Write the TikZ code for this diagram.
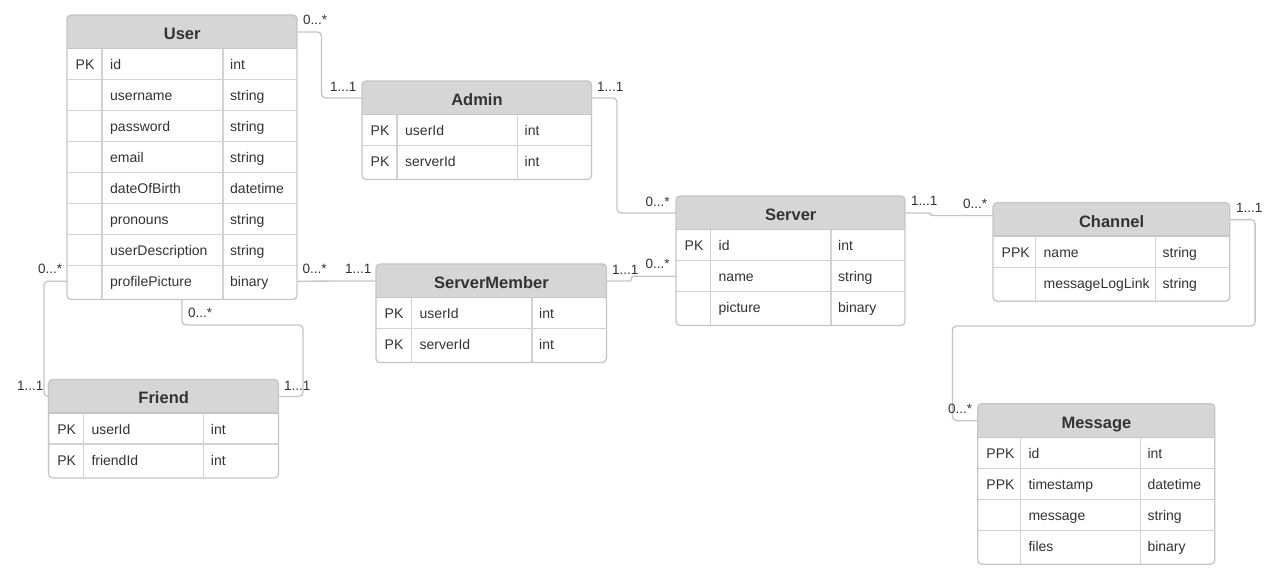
\documentclass[tikz,border=0pt]{standalone}
\usepackage{fontspec}
\setmainfont{Liberation Sans}
\definecolor{hdrfill}{HTML}{D6D6D6}
\definecolor{lnc}{HTML}{C6C6C6}
\definecolor{rowc}{HTML}{D2D2D2}
\definecolor{txt}{HTML}{333333}
\tikzset{
  hdrtext/.style={font=\bfseries\fontsize{16.5}{19}\selectfont, text=txt, inner sep=0},
  celltext/.style={font=\fontsize{14}{16}\selectfont, text=txt, inner sep=0},
  rowbox/.style={minimum height=31pt, inner sep=0},
  rowline/.style={draw=rowc, line width=1.1pt},
  hdrline/.style={draw=lnc, line width=1.4pt},
  border/.style={draw=lnc, line width=1.3pt, rounded corners=4pt, inner sep=0, outer sep=0},
  conn/.style={draw=lnc, line width=1.3pt, rounded corners=4pt},
  jogconn/.style={draw=lnc, line width=1.3pt, rounded corners=1.5pt},
  lab/.style={font=\fontsize{13.5}{15}\selectfont, text=txt, inner sep=0, anchor=base west},
}
% #1 name, #2 title, #3 left, #4 top, #5 right, #6 col1, #7 col2, #8 rows, #9 row list
\newcommand\ertable[9]{%
  \pgfmathsetmacro\erW{#5-(#3)}%
  \pgfmathsetmacro\erHB{#4+33.5}%
  \pgfmathsetmacro\erB{\erHB+31*#8+3}%
  \pgfmathsetmacro\erH{\erB-(#4)}%
  \fill[white,rounded corners=4pt] (#3,#4) rectangle (#5,\erB);
  \fill[hdrfill] (#3,\erHB) [rounded corners=4pt] -- (#3,#4) -- (#5,#4) [sharp corners] -- (#5,\erHB) -- cycle;
  \node[hdrtext, minimum width=\erW pt, minimum height=33.5pt, anchor=north west] (#1) at (#3,#4) {};
  \node[hdrtext, anchor=base] (#1-title) at ([yshift=-7.5pt]#1.center) {#2};
  \foreach [count=\i] \k/\n/\t in {#9} {
    \pgfmathsetmacro\erY{\erHB+31*(\i-1)}
    \node[rowbox, minimum width=\erW pt, anchor=north west] (#1-\i) at (#3,\erY) {};
    \node[celltext, anchor=base west] (#1-\i-k) at (#3+8.5,\erY+21.3) {\k};
    \node[celltext, anchor=base west] (#1-\i-n) at (#6+8,\erY+21.3) {\n};
    \node[celltext, anchor=base west] (#1-\i-t) at (#7+7,\erY+21.3) {\t};
  }
  \foreach \j in {2,...,#8} {
    \draw[rowline] (#3,\erHB+31*\j-31) -- (#5,\erHB+31*\j-31);
  }
  \draw[rowline] (#6,\erHB) -- (#6,\erB);
  \draw[rowline] (#7,\erHB) -- (#7,\erB);
  \draw[hdrline] (#3,\erHB) -- (#5,\erHB);
  \node[border, minimum width=\erW pt, minimum height=\erH pt, anchor=north west] (#1-box) at (#3,#4) {};
}
\begin{document}
\begin{tikzpicture}[x=1pt,y=-1pt]
\useasboundingbox[fill=white] (0,0) rectangle (1279,569);

\coordinate (uf) at (303,325);
\coordinate (cm) at (952.5,326);

\ertable{user}{User}{67}{15}{297}{102}{223}{8}{PK/id/int, {}/username/string, {}/password/string, {}/email/string, {}/dateOfBirth/datetime, {}/pronouns/string, {}/userDescription/string, {}/profilePicture/binary}
\ertable{admin}{Admin}{362}{81}{591.5}{397}{517.5}{2}{PK/userId/int, PK/serverId/int}
\ertable{sm}{ServerMember}{376}{264}{606.5}{411.5}{532}{2}{PK/userId/int, PK/serverId/int}
\ertable{friend}{Friend}{48.6}{379.5}{278.4}{83.3}{203.7}{2}{PK/userId/int, PK/friendId/int}
\ertable{server}{Server}{676}{196}{905}{710.5}{831}{3}{PK/id/int, {}/name/string, {}/picture/binary}
\ertable{channel}{Channel}{993}{202.7}{1229.7}{1035.5}{1155.5}{2}{PPK/name/string, {}/messageLogLink/string}
\ertable{message}{Message}{977.7}{403.7}{1214.7}{1020.3}{1140.3}{4}{PPK/id/int, PPK/timestamp/datetime, {}/message/string, {}/files/binary}

\draw[conn] (user.east) -- ([xshift=24pt]user.east) |- (admin.west);
\draw[conn] (admin.east) -- ([xshift=25pt]admin.east) |- (server.west);
\draw[conn] (user-8.east) -- (sm.west);
\draw[jogconn] (sm.east) -- ([xshift=24.5pt]sm.east) |- (server-2.west);
\draw[jogconn] (server.east) -- ([xshift=25pt]server.east) |- ([yshift=-2.5pt]server.east -| channel.west);
\draw[conn] (channel.east) -- ([xshift=25pt]channel.east) |- (cm) |- (message.west);
\draw[conn] (user-8.west) -- ([xshift=-23pt]user-8.west) |- (friend.west);
\draw[conn] (user-box.south) |- (uf) |- (friend.east);

% multiplicity labels
\node[lab] (l1) at (303,25) {0...*};
\node[lab] (l2) at (330,92) {1...1};
\node[lab] (l3) at (597,92) {1...1};
\node[lab] (l4) at (645.5,206.5) {0...*};
\node[lab] (l5) at (302.5,273) {0...*};
\node[lab] (l6) at (345,273) {1...1};
\node[lab] (l7) at (612,274) {1...1};
\node[lab] (l8) at (645.5,269) {0...*};
\node[lab] (l9) at (911,206) {1...1};
\node[lab] (l10) at (963,209) {0...*};
\node[lab] (l11) at (1236,213) {1...1};
\node[lab] (l12) at (38,273) {0...*};
\node[lab] (l13) at (17,390) {1...1};
\node[lab] (l14) at (188,317) {0...*};
\node[lab] (l15) at (284,390) {1...1};
\node[lab] (l16) at (948,413.5) {0...*};
\end{tikzpicture}
\end{document}
